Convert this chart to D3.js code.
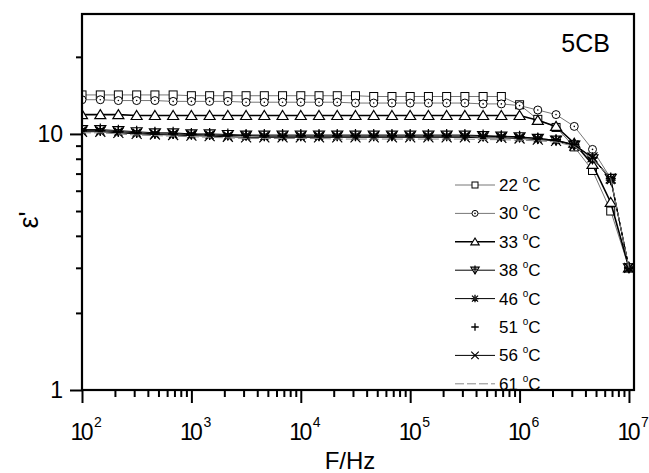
<!DOCTYPE html>
<html>
<head>
<meta charset="utf-8">
<script src="https://cdn.jsdelivr.net/npm/d3@7"></script>
<style>
  body { margin: 0; background: #fff; overflow: hidden; }
  svg { font-family: "Liberation Sans", Arial, sans-serif; display: block; }
</style>
</head>
<body>
<svg id="chart" width="649" height="473"></svg>
<script>
// frequencies (Hz), 6 points per decade
var freqs = [100, 147, 215, 316, 464, 681, 1000, 1468, 2154, 3162, 4642, 6813,
    10000, 14678, 21544, 31623, 46416, 68129, 100000, 146780, 215443, 316228,
    464159, 681292, 1000000, 1467799, 2154435, 3162278, 4641589, 6812921, 10000000];

var temps = ["22", "30", "33", "38", "46", "51", "56", "61"];

var eps22 = [14.2, 14.2, 14.2, 14.2, 14.2, 14.2, 14.1, 14.1, 14.1, 14.1, 14.1, 14.1,
    14.1, 14.1, 14.1, 14.1, 14.0, 14.0, 14.0, 14.0, 14.0, 14.0, 14.0, 14.0,
    13.0, 11.4, 10.6, 8.9, 7.2, 5.0, 3.0];
var eps30 = [13.6, 13.6, 13.5, 13.5, 13.5, 13.4, 13.4, 13.4, 13.4, 13.3, 13.3, 13.3,
    13.3, 13.3, 13.3, 13.2, 13.2, 13.2, 13.2, 13.2, 13.2, 13.2, 13.1, 13.1,
    12.9, 12.4, 11.9, 10.7, 8.7, 6.7, 3.0];
var eps33 = [11.9, 11.9, 11.9, 11.8, 11.8, 11.8, 11.8, 11.8, 11.8, 11.8, 11.8, 11.8,
    11.8, 11.8, 11.8, 11.8, 11.8, 11.8, 11.8, 11.8, 11.8, 11.8, 11.8, 11.8,
    11.8, 11.3, 10.7, 9.2, 7.6, 5.4, 3.0];
var eps38 = [10.4, 10.4, 10.3, 10.2, 10.1, 10.1, 10.0, 10.0, 9.95, 9.9, 9.9, 9.9,
    9.9, 9.9, 9.9, 9.9, 9.9, 9.9, 9.9, 9.9, 9.9, 9.9, 9.85, 9.8,
    9.75, 9.6, 9.45, 9.05, 8.0, 6.7, 3.0];
var eps46 = [10.3, 10.3, 10.2, 10.1, 10.0, 10.0, 9.95, 9.9, 9.85, 9.85, 9.8, 9.8,
    9.8, 9.8, 9.8, 9.8, 9.8, 9.8, 9.8, 9.8, 9.8, 9.8, 9.8, 9.75,
    9.7, 9.6, 9.45, 9.1, 8.1, 6.6, 3.0];
var eps51 = [10.3, 10.3, 10.2, 10.1, 10.1, 10.0, 10.0, 9.95, 9.9, 9.9, 9.85, 9.85,
    9.85, 9.85, 9.85, 9.85, 9.85, 9.85, 9.85, 9.85, 9.85, 9.85, 9.8, 9.8,
    9.75, 9.6, 9.5, 9.1, 8.05, 6.7, 3.0];
var eps56 = [10.2, 10.2, 10.1, 10.0, 9.95, 9.9, 9.85, 9.8, 9.75, 9.7, 9.7, 9.7,
    9.7, 9.7, 9.7, 9.7, 9.7, 9.7, 9.7, 9.7, 9.7, 9.7, 9.65, 9.65,
    9.6, 9.5, 9.4, 9.0, 8.1, 6.7, 3.0];
var eps61 = [10.1, 10.1, 10.0, 9.9, 9.85, 9.8, 9.75, 9.7, 9.65, 9.6, 9.6, 9.6,
    9.6, 9.6, 9.55, 9.55, 9.55, 9.55, 9.55, 9.55, 9.55, 9.55, 9.5, 9.5,
    9.45, 9.4, 9.3, 8.95, 8.0, 6.7, 3.0];

var xMajor = [1e2, 1e3, 1e4, 1e5, 1e6, 1e7];
var xExp = ["2", "3", "4", "5", "6", "7"];
var yMajor = [1, 10];
var yLabels = ["1", "10"];

var series = [
    {name: temps[0], values: eps22, sym: "square", color: "#777", width: 1, dash: null},
    {name: temps[1], values: eps30, sym: "circle", color: "#777", width: 1, dash: null},
    {name: temps[2], values: eps33, sym: "triangle", color: "#000", width: 1.6, dash: null},
    {name: temps[3], values: eps38, sym: "down", color: "#000", width: 1, dash: null},
    {name: temps[4], values: eps46, sym: "star", color: "#000", width: 1, dash: null},
    {name: temps[5], values: eps51, sym: "plus", color: "#000", width: 0, dash: null},
    {name: temps[6], values: eps56, sym: "cross", color: "#000", width: 1, dash: null},
    {name: temps[7], values: eps61, sym: "none", color: "#888", width: 1, dash: "9,3"}
];

var svg = d3.select("#chart");
var mLeft = 82, mRight = 634, mTop = 14, mBottom = 390;

var x = d3.scaleLog().domain([100, Math.pow(10, 7.046)]).range([mLeft, mRight]);
var y = d3.scaleLog().domain([1, 29.4]).range([mBottom, mTop]);

function minorTicks(lo, hi) {
    var out = [];
    for (var p = lo; p <= hi; p++)
        for (var m = 2; m <= 9; m++) out.push(m * Math.pow(10, p));
    return out;
}

// minor + major ticks
var xMinor = minorTicks(2, 6).filter(function (d) { return d < x.domain()[1]; });
var yMinor = minorTicks(0, 1).filter(function (d) { return d < y.domain()[1]; });

svg.append("g")
    .attr("transform", "translate(0," + mBottom + ")")
    .call(d3.axisBottom(x).tickValues(xMinor).tickSize(7).tickFormat(""))
    .call(function (g) { g.select(".domain").remove(); });
svg.append("g")
    .attr("transform", "translate(0," + mBottom + ")")
    .call(d3.axisBottom(x).tickValues(xMajor).tickSize(13).tickFormat(""))
    .call(function (g) { g.select(".domain").remove(); });
svg.append("g")
    .attr("transform", "translate(" + mLeft + ",0)")
    .call(d3.axisLeft(y).tickValues(yMinor).tickSize(6).tickFormat(""))
    .call(function (g) { g.select(".domain").remove(); });
svg.append("g")
    .attr("transform", "translate(" + mLeft + ",0)")
    .call(d3.axisLeft(y).tickValues(yMajor).tickSize(12).tickFormat(""))
    .call(function (g) { g.select(".domain").remove(); });
svg.selectAll(".tick line").attr("stroke", "#000").attr("stroke-width", 2);

// tick labels
svg.append("g").selectAll("text")
    .data(xMajor)
    .enter().append("text")
    .attr("x", function (d) { return x(d); })
    .attr("y", 440)
    .attr("text-anchor", "middle")
    .attr("font-size", 23)
    .attr("textLength", 23)
    .text("10");
svg.append("g").selectAll("text")
    .data(xMajor)
    .enter().append("text")
    .attr("x", function (d) { return x(d) + 12; })
    .attr("y", 427)
    .attr("font-size", 14)
    .text(function (d, i) { return xExp[i]; });

svg.append("g").selectAll("text")
    .data(yMajor)
    .enter().append("text")
    .attr("x", 63)
    .attr("y", function (d) { return y(d); })
    .attr("dy", "0.36em")
    .attr("text-anchor", "end")
    .attr("font-size", 23)
    .text(function (d, i) { return yLabels[i]; });

svg.append("text")
    .attr("x", 350)
    .attr("y", 469)
    .attr("text-anchor", "middle")
    .attr("font-size", 24)
    .text("F/Hz");

svg.append("text")
    .attr("transform", "translate(38,220) rotate(-90)")
    .attr("text-anchor", "middle")
    .attr("font-size", 27)
    .text("ε'");

svg.append("text")
    .attr("x", 610)
    .attr("y", 52)
    .attr("text-anchor", "end")
    .attr("font-size", 25)
    .text("5CB");

// symbols, k scales the size
function drawSymbol(g, sym, cx, cy, k) {
    k = k || 1;
    var a = 4 * k, b = 5 * k, c = 5.5 * k;
    if (sym === "square") {
        g.append("rect").attr("x", cx - a).attr("y", cy - a).attr("width", 2 * a).attr("height", 2 * a)
            .attr("fill", "#fff").attr("stroke", "#000").attr("stroke-width", 1);
    } else if (sym === "circle") {
        g.append("circle").attr("cx", cx).attr("cy", cy).attr("r", a)
            .attr("fill", "#fff").attr("stroke", "#000").attr("stroke-width", 1);
        g.append("circle").attr("cx", cx).attr("cy", cy).attr("r", 0.8).attr("fill", "#000");
    } else if (sym === "triangle") {
        g.append("path").attr("d", "M" + cx + "," + (cy - b) + "L" + (cx + c) + "," + (cy + a) + "L" + (cx - c) + "," + (cy + a) + "Z")
            .attr("fill", "#fff").attr("stroke", "#000").attr("stroke-width", 1.2);
    } else if (sym === "down") {
        g.append("path").attr("d", "M" + cx + "," + (cy + b) + "L" + (cx + c) + "," + (cy - a) + "L" + (cx - c) + "," + (cy - a) + "Z")
            .attr("fill", "#fff").attr("stroke", "#000").attr("stroke-width", 1.2);
        g.append("path").attr("d", "M" + cx + "," + (cy - b - 1) + "V" + (cy + b) + "M" + (cx - 3 * k) + "," + (cy - 1) + "H" + (cx + 3 * k))
            .attr("stroke", "#000").attr("stroke-width", 1.2);
    } else if (sym === "star") {
        g.append("path").attr("d", "M" + (cx - a) + "," + (cy - a) + "L" + (cx + a) + "," + (cy + a) +
            "M" + (cx + a) + "," + (cy - a) + "L" + (cx - a) + "," + (cy + a) +
            "M" + cx + "," + (cy - b) + "V" + (cy + b) + "M" + (cx - b) + "," + cy + "H" + (cx + b))
            .attr("stroke", "#000").attr("stroke-width", 1.3);
        g.append("circle").attr("cx", cx).attr("cy", cy).attr("r", 2.4 * k).attr("fill", "#222");
    } else if (sym === "plus") {
        g.append("path").attr("d", "M" + cx + "," + (cy - b) + "V" + (cy + b) + "M" + (cx - b) + "," + cy + "H" + (cx + b))
            .attr("stroke", "#000").attr("stroke-width", 1.3);
    } else if (sym === "cross") {
        g.append("path").attr("d", "M" + (cx - b) + "," + (cy - b) + "L" + (cx + b) + "," + (cy + b) +
            "M" + (cx + b) + "," + (cy - b) + "L" + (cx - b) + "," + (cy + b))
            .attr("stroke", "#000").attr("stroke-width", 1.2);
    }
}

svg.append("defs").append("clipPath").attr("id", "plotclip")
    .append("rect").attr("x", mLeft).attr("y", mTop).attr("width", mRight - mLeft).attr("height", mBottom - mTop);

var plot = svg.append("g").attr("clip-path", "url(#plotclip)");

var line = d3.line()
    .x(function (d, i) { return x(freqs[i]); })
    .y(function (d) { return y(d); });

series.forEach(function (s) {
    var g = plot.append("g");
    if (s.width > 0) {
        g.append("path")
            .attr("d", line(s.values))
            .attr("fill", "none")
            .attr("stroke", s.color)
            .attr("stroke-width", s.width)
            .attr("stroke-dasharray", s.dash);
    }
    s.values.forEach(function (v, i) {
        drawSymbol(g, s.sym, x(freqs[i]), y(v));
    });
});

// legend
var legend = plot.append("g");
series.forEach(function (s, i) {
    var ly = 185 + i * 28.4;
    var g = legend.append("g");
    if (s.width > 0) {
        g.append("line")
            .attr("x1", 455).attr("x2", 495)
            .attr("y1", ly).attr("y2", ly)
            .attr("stroke", s.color)
            .attr("stroke-width", s.width)
            .attr("stroke-dasharray", s.dash);
    }
    drawSymbol(g, s.sym, 475, ly, 0.75);
    var t = g.append("text")
        .attr("x", 499)
        .attr("y", ly + 6)
        .attr("font-size", 17);
    t.append("tspan").text(s.name + " ");
    t.append("tspan").attr("font-size", 10).attr("dy", -8).text("o");
    t.append("tspan").attr("dy", 8).text("C");
});

// frame
svg.append("rect")
    .attr("x", mLeft).attr("y", mTop)
    .attr("width", mRight - mLeft).attr("height", mBottom - mTop)
    .attr("fill", "none")
    .attr("stroke", "#000")
    .attr("stroke-width", 2.2);
</script>
</body>
</html>
